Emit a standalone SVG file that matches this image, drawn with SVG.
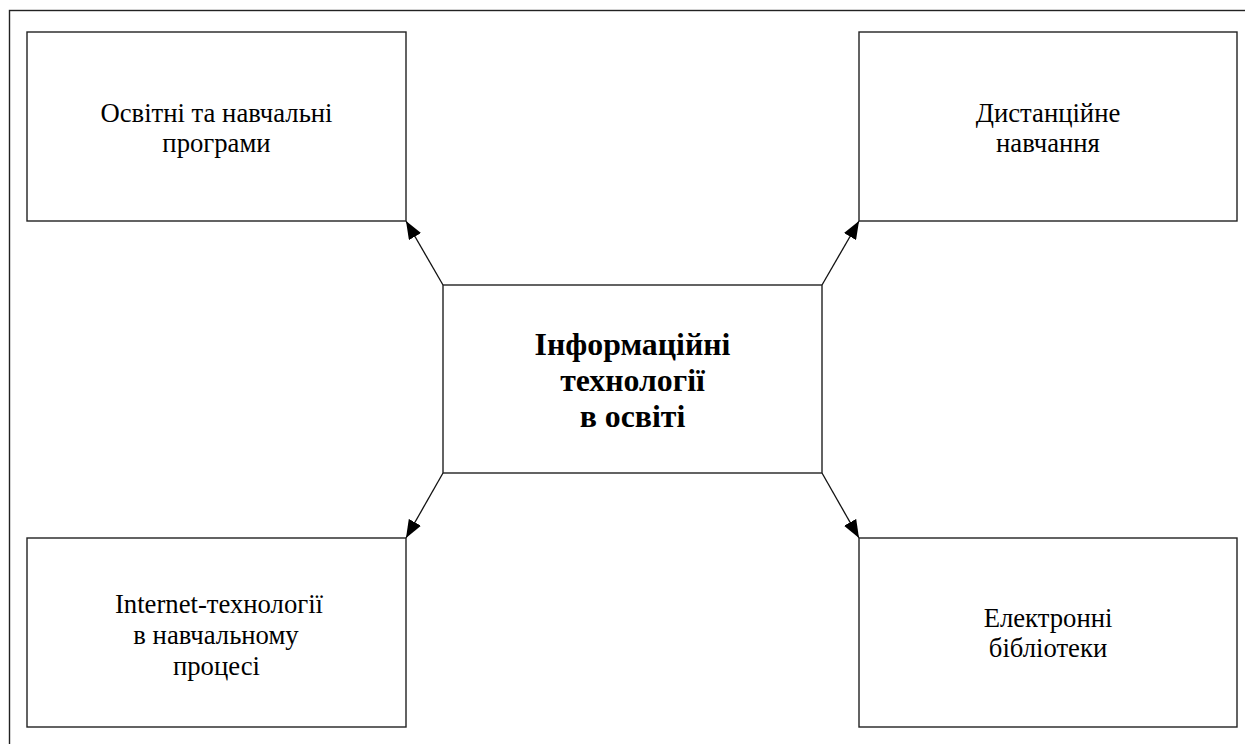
<svg xmlns="http://www.w3.org/2000/svg" width="1245" height="744" viewBox="0 0 1245 744">
<style>
.box{fill:#fff;stroke:#222;stroke-width:1.4}
.t{font-family:"Liberation Serif","Times New Roman",serif;font-size:26.7px;fill:#000;text-anchor:middle}
.b{font-family:"Liberation Serif","Times New Roman",serif;font-size:31.8px;font-weight:bold;fill:#000;text-anchor:middle}
.c{stroke:#111;stroke-width:1.3;fill:none}
</style>
<defs>
<marker id="ah" markerUnits="userSpaceOnUse" markerWidth="20" markerHeight="14" refX="18" refY="7" orient="auto">
<path d="M0,0 L18,7 L0,14 Z" fill="#000"/>
</marker>
</defs>
<rect x="0" y="0" width="1245" height="744" fill="#fff"/>
<rect id="frame" x="9.5" y="10.5" width="1260" height="760" fill="none" stroke="#222" stroke-width="1.4"/>
<g id="connectors">
<line class="c" x1="443" y1="285" x2="406" y2="221" marker-end="url(#ah)"/>
<line class="c" x1="822" y1="285" x2="859" y2="221" marker-end="url(#ah)"/>
<line class="c" x1="443" y1="473" x2="406" y2="538" marker-end="url(#ah)"/>
<line class="c" x1="822" y1="473" x2="859" y2="538" marker-end="url(#ah)"/>
</g>
<g id="center">
<rect class="box" x="443" y="285" width="379" height="188"/>
<text class="b" x="632.5" y="355">Інформаційні</text>
<text class="b" x="632.5" y="391">технології</text>
<text class="b" x="632.5" y="427">в освіті</text>
</g>
<g id="tl">
<rect class="box" x="27" y="32" width="379" height="189"/>
<text class="t" x="216.5" y="122">Освітні та навчальні</text>
<text class="t" x="216.5" y="152">програми</text>
</g>
<g id="tr">
<rect class="box" x="859" y="32" width="378" height="189"/>
<text class="t" x="1048" y="122">Дистанційне</text>
<text class="t" x="1048" y="152">навчання</text>
</g>
<g id="bl">
<rect class="box" x="27" y="538" width="379" height="189"/>
<text class="t" x="219" y="613">Internet-технології</text>
<text class="t" x="216" y="644">в навчальному</text>
<text class="t" x="216.5" y="675">процесі</text>
</g>
<g id="br">
<rect class="box" x="859" y="538" width="378" height="189"/>
<text class="t" x="1048" y="627">Електронні</text>
<text class="t" x="1048" y="657">бібліотеки</text>
</g>
</svg>
